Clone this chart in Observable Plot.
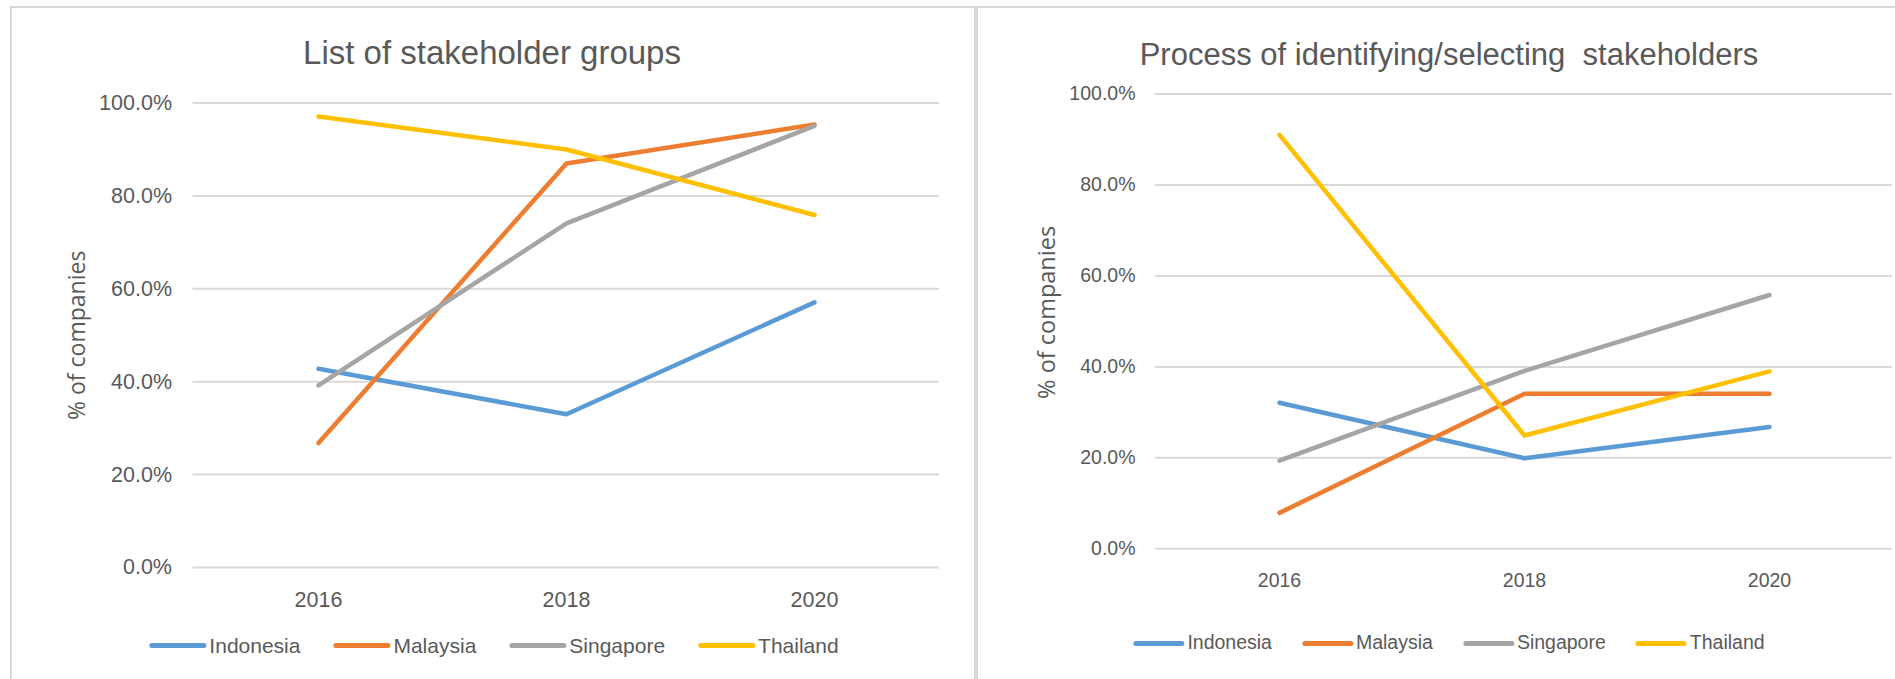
<!DOCTYPE html>
<html>
<head>
<meta charset="utf-8">
<script src="https://cdn.jsdelivr.net/npm/d3@7"></script>
<script src="https://cdn.jsdelivr.net/npm/@observablehq/plot@0.6"></script>
<style>
  html, body { margin: 0; padding: 0; background: #fff; }
  #page { position: relative; width: 1895px; height: 679px; overflow: hidden; background: #fff; }
  .frame { position: absolute; box-sizing: border-box; border-color: #D9D9D9; border-style: solid; }
  .title { position: absolute; transform: translateX(-50%); white-space: pre; line-height: 1;
           font-family: "Liberation Sans", Arial, sans-serif; color: #595959; }
  .legend { position: absolute; transform: translateX(-50%); height: 30px; display: flex; align-items: center;
            white-space: nowrap; font-family: "Liberation Sans", Arial, sans-serif; color: #595959; line-height: 1; }
  .item { display: flex; align-items: center; gap: 3px; }
  .sw { display: inline-block; height: 5px; border-radius: 3px; }
  .chart { position: absolute; }
</style>
</head>
<body>
<div id="page">
  <div class="frame" style="left:10px; top:6px; width:966px; height:700px; border-width:2px 2px 0 2px;"></div>
  <div class="frame" style="left:976px; top:6px; width:940px; height:700px; border-width:2px 0 0 2px;"></div>
  <div id="t1" class="title" style="left:492px; top:36px; font-size:33px;"></div>
  <div id="c1" class="chart" style="left:0px; top:80px;"></div>
  <div id="l1" class="legend" style="left:494px; top:630px; gap:33px; font-size:21px;"></div>
  <div id="t2" class="title" style="left:1449px; top:39px; font-size:31px;"></div>
  <div id="c2" class="chart" style="left:975px; top:70px;"></div>
  <div id="l2" class="legend" style="left:1449px; top:628px; gap:30px; font-size:19.5px;"></div>
</div>
<script>
// ---- data ----
const years = ["2016", "2018", "2020"];
const countries = ["Indonesia", "Malaysia", "Singapore", "Thailand"];
const colors = ["#5B9BD5", "#ED7D31", "#A5A5A5", "#FFC000"];
const yTicks = [0, 20, 40, 60, 80, 100];
const yAxisTitle = "% of companies";

const title1 = "List of stakeholder groups";
const listIndonesia = [42.8, 33.0, 57.1];
const listMalaysia  = [26.8, 87.0, 95.4];
const listSingapore = [39.2, 74.1, 95.1];
const listThailand  = [97.1, 90.0, 75.9];

const title2 = "Process of identifying/selecting  stakeholders";
const procIndonesia = [32.1, 19.9, 26.8];
const procMalaysia  = [7.9, 34.1, 34.1];
const procSingapore = [19.4, 39.1, 55.8];
const procThailand  = [91.0, 24.9, 39.0];

function toRows(seriesList) {
  const rows = [];
  seriesList.forEach((vals, i) => {
    vals.forEach((v, j) => rows.push({country: countries[i], year: years[j], value: v}));
  });
  return rows;
}

function makeChart(rows, o) {
  return Plot.plot({
    width: o.width, height: o.height,
    marginLeft: o.ml, marginRight: o.mr, marginTop: o.mt, marginBottom: o.mb,
    style: {fontFamily: "'Liberation Sans', Arial, sans-serif", color: "#595959", background: "transparent", overflow: "visible"},
    x: {type: "point", domain: years, padding: 0.5, label: null},
    y: {domain: [0, 100], label: null},
    color: {domain: countries, range: colors},
    marks: [
      Plot.ruleY(yTicks, {stroke: "#D9D9D9", strokeWidth: 2}),
      Plot.axisY({ticks: yTicks, tickFormat: d => d.toFixed(1) + "%", tickSize: 0, tickPadding: o.yPad, fontSize: o.tickFont, label: null}),
      Plot.axisX({tickSize: 0, tickPadding: o.xPad, fontSize: o.tickFont, label: null}),
      Plot.text([yAxisTitle], {text: d => d, frameAnchor: "left", textAnchor: "middle", lineAnchor: "middle",
        rotate: -90, dx: o.tdx, dy: o.tdy,
        fontSize: o.titleFont, fontFamily: "'Open Sans', 'Noto Sans', sans-serif", fill: "#595959"}),
      Plot.lineY(rows, {x: "year", y: "value", stroke: "country", z: "country",
        strokeWidth: 4.5, strokeLinecap: "round", strokeLinejoin: "round"})
    ]
  });
}

function makeLegend(el, swatchWidth) {
  countries.forEach((c, i) => {
    const item = document.createElement("div");
    item.className = "item";
    const sw = document.createElement("span");
    sw.className = "sw";
    sw.style.width = swatchWidth + "px";
    sw.style.background = colors[i];
    const tx = document.createElement("span");
    tx.textContent = c;
    item.appendChild(sw);
    item.appendChild(tx);
    el.appendChild(item);
  });
}

document.getElementById("t1").textContent = title1;
document.getElementById("t2").textContent = title2;

document.getElementById("c1").appendChild(makeChart(
  toRows([listIndonesia, listMalaysia, listSingapore, listThailand]),
  {width: 975, height: 540, ml: 192.5, mr: 36.25, mt: 22.6, mb: 53, yPad: 21, xPad: 24, tickFont: 21.5, tdx: -115.5, tdy: 0, titleFont: 23}
));
document.getElementById("c2").appendChild(makeChart(
  toRows([procIndonesia, procMalaysia, procSingapore, procThailand]),
  {width: 920, height: 530, ml: 180, mr: 3, mt: 23.5, mb: 51.7, yPad: 20, xPad: 24.7, tickFont: 19.5, tdx: -108, tdy: -9, titleFont: 23.5}
));
makeLegend(document.getElementById("l1"), 57);
makeLegend(document.getElementById("l2"), 51);
</script>
</body>
</html>
